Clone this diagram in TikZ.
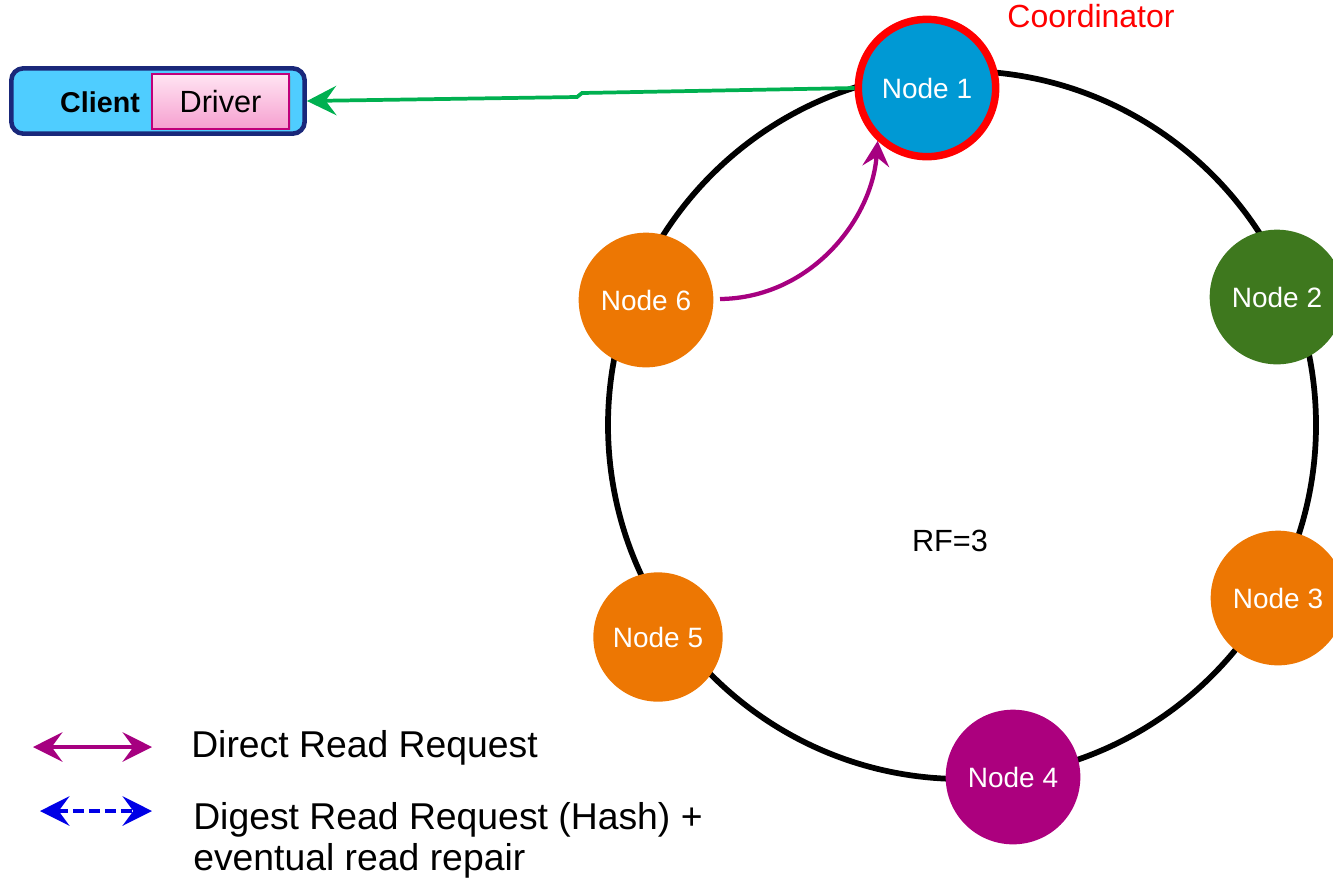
\documentclass[tikz,border=0pt]{standalone}
\usepackage{fontspec}
\setmainfont{Liberation Sans}
\usetikzlibrary{arrows.meta,shadows}

\definecolor{coordblue}{RGB}{0,153,212}
\definecolor{coordred}{RGB}{255,0,0}
\definecolor{replorange}{RGB}{237,119,3}
\definecolor{replgreen}{RGB}{62,120,30}
\definecolor{replmagenta}{RGB}{172,0,126}
\definecolor{clientfill}{RGB}{79,205,255}
\definecolor{clientline}{RGB}{26,40,122}
\definecolor{drvtop}{RGB}{255,228,242}
\definecolor{drvbot}{RGB}{246,160,208}
\definecolor{drvline}{RGB}{192,0,122}
\definecolor{respgreen}{RGB}{0,176,80}
\definecolor{readmagenta}{RGB}{166,0,128}
\definecolor{digestblue}{RGB}{0,0,230}

\tikzset{
  barbtip/.tip={Stealth[length=22pt, width=22pt, inset=8pt]},
  ring/.style={draw=black, line width=4.3pt},
  cnode/.style={circle, inner sep=0pt, minimum size=101pt, text=white,
    font=\fontsize{21}{25}\selectfont},
  coordnode/.style={cnode, fill=coordblue, draw=coordred, line width=5.6pt,
    minimum size=103pt},
  clientbox/.style={draw=clientline, fill=clientfill, line width=3.4pt,
    rounded corners=9pt, minimum width=220pt, minimum height=49pt},
  driverbox/.style={draw=drvline, line width=1.2pt, top color=drvtop,
    bottom color=drvbot, minimum width=103pt, minimum height=41pt,
    font=\fontsize{23}{27}\selectfont, drop shadow={opacity=0.25,
    shadow xshift=1pt, shadow yshift=-1pt}},
  resp/.style={draw=respgreen, line width=2.8pt, -{Stealth[length=22pt, width=22pt, inset=8pt]}},
  direct/.style={draw=readmagenta, line width=3.2pt,
    -{Stealth[length=19pt, width=20pt, inset=7pt]}},
  legdirect/.style={draw=readmagenta, line width=3.6pt, barbtip-barbtip},
  legdigest/.style={draw=digestblue, line width=3.6pt, dash pattern=on 8pt off 4pt, barbtip-barbtip},
  legtext/.style={anchor=west, align=left, inner sep=0pt,
    font=\fontsize{28}{31}\selectfont},
}

\begin{document}
\begin{tikzpicture}[x=0.75pt, y=-0.75pt]
\useasboundingbox (0,0) rectangle (1333,879);

% token ring
\draw[ring] (962,425) circle[radius=265.5pt];

% replica nodes
\node[coordnode] (n1) at (927,88) {Node 1};
\node[cnode, fill=replgreen]   (n2) at (1277,297) {Node 2};
\node[cnode, fill=replorange]  (n3) at (1278,598) {Node 3};
\node[cnode, fill=replmagenta] (n4) at (1013,777) {Node 4};
\node[cnode, fill=replorange, minimum size=97pt] (n5) at (658,637) {Node 5};
\node[cnode, fill=replorange]  (n6) at (646,300) {Node 6};

\node[text=coordred, font=\fontsize{24}{28}\selectfont] (coord) at (1091,16) {Coordinator};
\node[font=\fontsize{23}{27}\selectfont] (rf) at (950,541) {RF=3};

% client application with its driver
\node[clientbox] (client) at (158,101) {};
\node[font=\bfseries\fontsize{21.5}{25}\selectfont] (clientlbl) at (100,102) {Client};
\node[driverbox] (driver) at (220.5,101.5) {Driver};

% coordinator answers the client
\coordinate (bend1) at (582,93);
\coordinate (bend2) at (577,97);
\draw[resp] (n1.west) -- (bend1) -- (bend2) -- (client.east);

% direct read from the replica
\draw[direct] (720,299) coordinate (r6) .. controls (810,298) and (872,220) .. (n1.-133);

% legend
\coordinate (la1) at (33,747);
\coordinate (la2) at (152,747);
\coordinate (lb1) at (40,811);
\coordinate (lb2) at (152,811);
\draw[legdirect] (la1) -- (la2);
\draw[legdigest] (lb1) -- (lb2);
\node[legtext] (ltext1) at (191,748) {Direct Read Request};
\node[legtext] (ltext2) at (193,840) {Digest Read Request (Hash) +\\eventual read repair};
\end{tikzpicture}
\end{document}
